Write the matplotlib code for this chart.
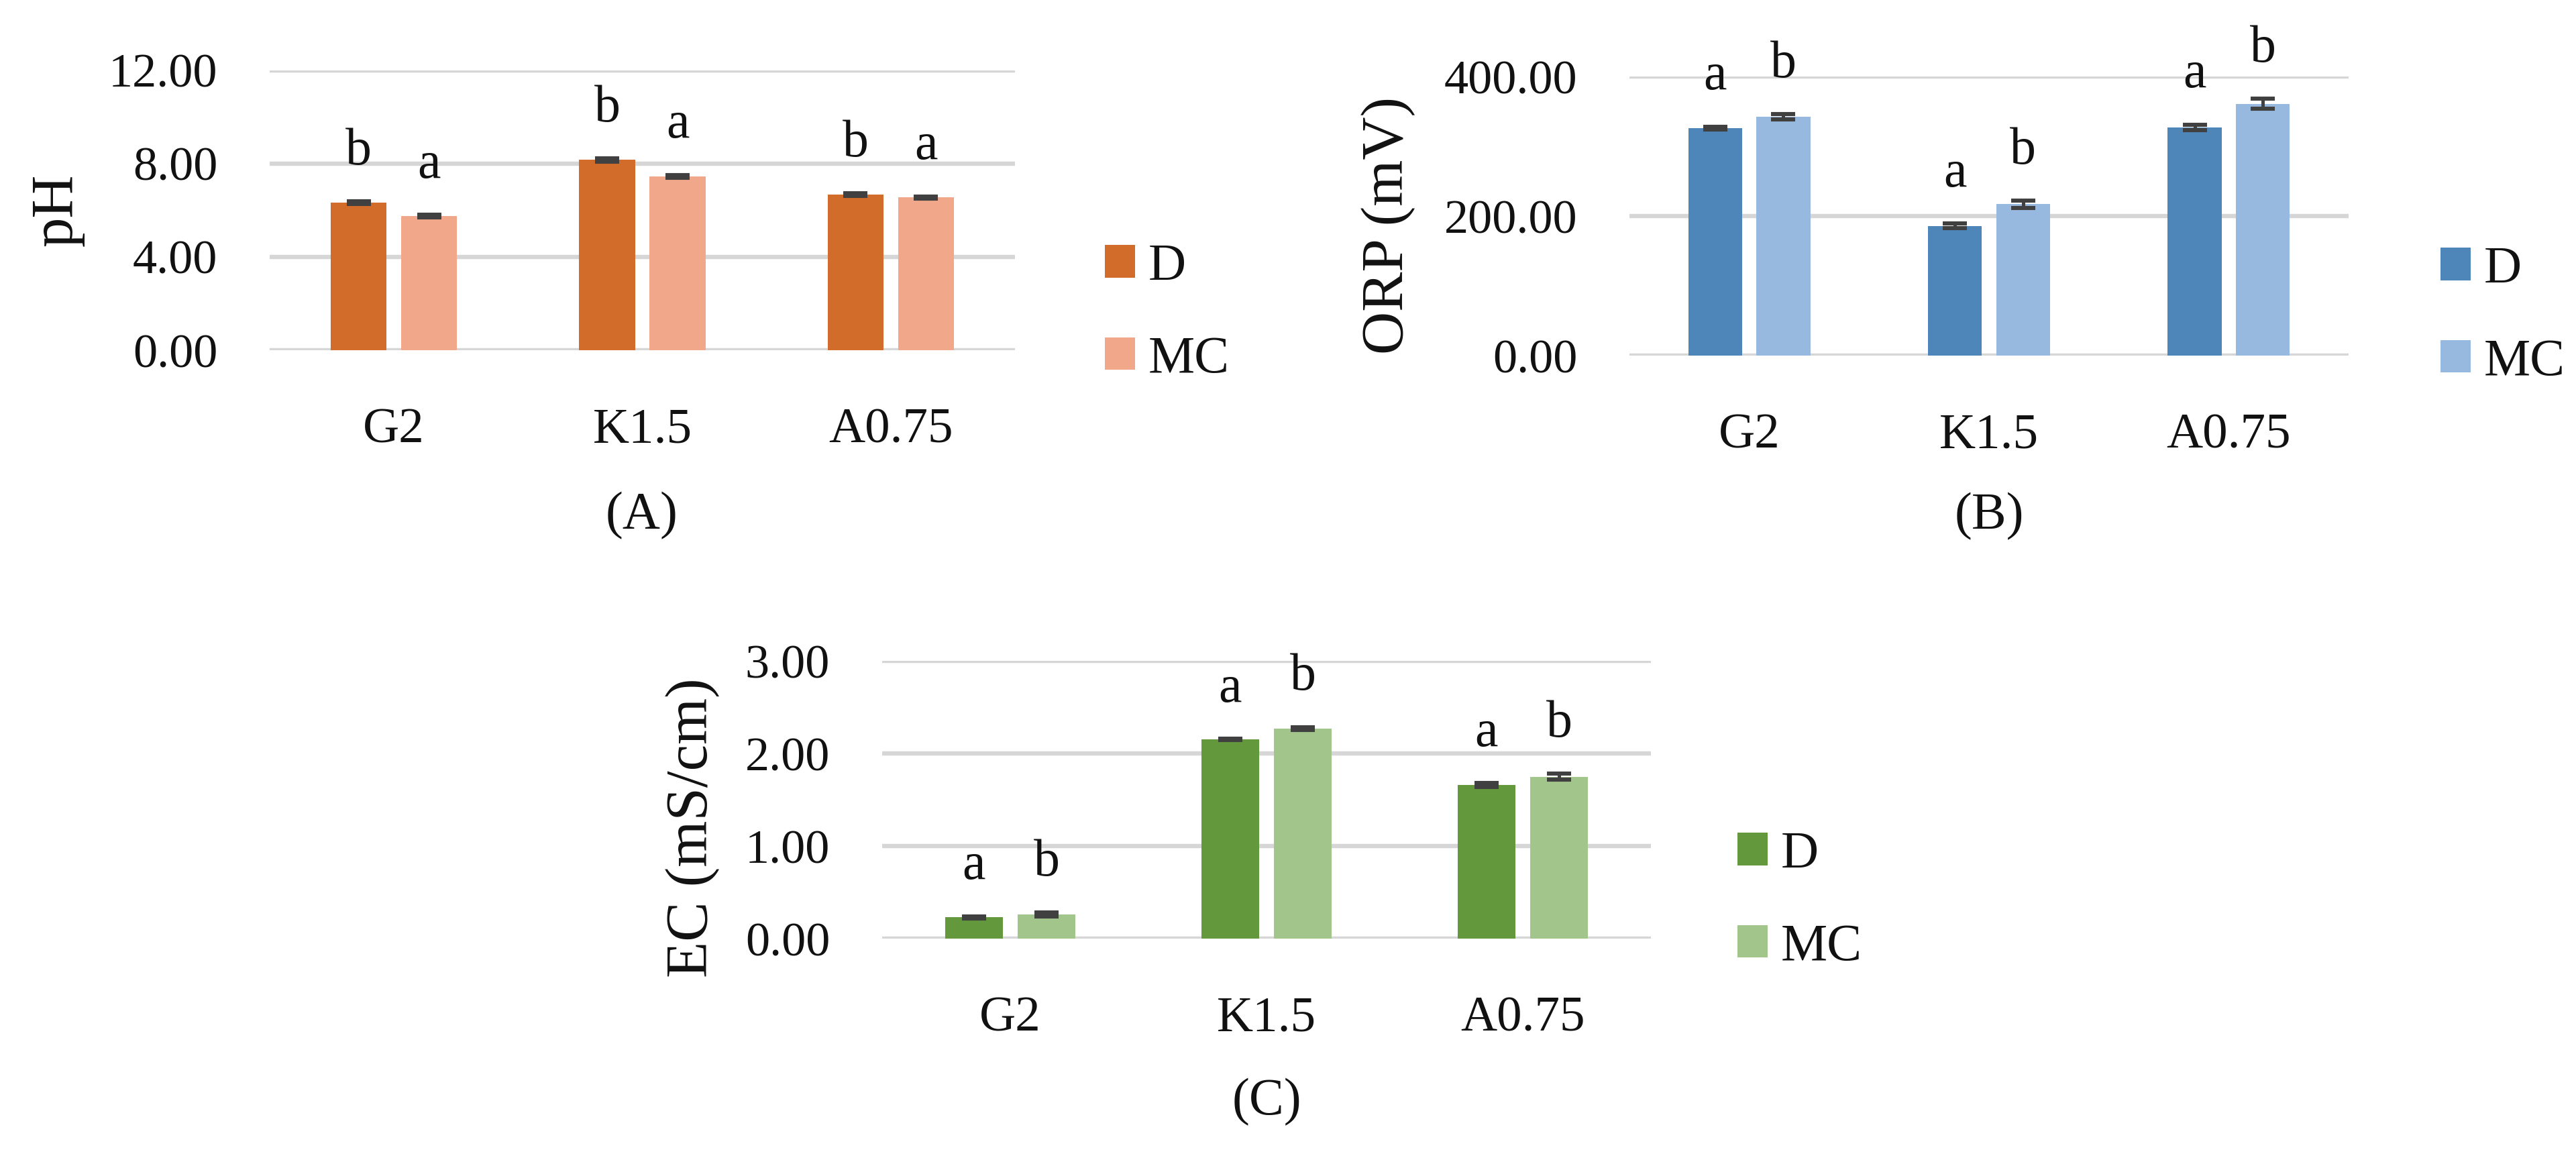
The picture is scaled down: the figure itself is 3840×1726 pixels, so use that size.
import numpy as np
import matplotlib
matplotlib.use("Agg")
import matplotlib.pyplot as plt

plt.rcParams['font.family'] = ['Liberation Serif', 'DejaVu Serif']
plt.rcParams['text.color'] = '#111111'
plt.rcParams['xtick.color'] = '#111111'
plt.rcParams['ytick.color'] = '#111111'

treatments = ["G2", "K1.5", "A0.75"]
series_names = ["D", "MC"]

# pH
ph_d = [6.32, 8.16, 6.67]
ph_mc = [5.75, 7.45, 6.55]
ph_d_err = [0.06, 0.06, 0.06]
ph_mc_err = [0.06, 0.06, 0.04]
ph_d_letters = ["b", "b", "b"]
ph_mc_letters = ["a", "a", "a"]

# ORP (mV)
orp_d = [326, 186, 327]
orp_mc = [342, 217, 361]
orp_d_err = [2, 3, 4]
orp_mc_err = [4, 5, 7]
orp_d_letters = ["a", "a", "a"]
orp_mc_letters = ["b", "b", "b"]

# EC (mS/cm)
ec_d = [0.23, 2.15, 1.66]
ec_mc = [0.26, 2.27, 1.75]
ec_d_err = [0.01, 0.008, 0.02]
ec_mc_err = [0.02, 0.015, 0.03]
ec_d_letters = ["a", "a", "a"]
ec_mc_letters = ["b", "b", "b"]

W, H = 3841, 1726
DPI = 200
fig = plt.figure(figsize=(W / DPI, H / DPI), dpi=DPI)


def px_axes(x0, y_top, x1, y_bot):
    return fig.add_axes([x0 / W, 1 - y_bot / H, (x1 - x0) / W, (y_bot - y_top) / H])


def bar_panel(ax, d, mc, d_err, mc_err, d_let, mc_let, colors, ymax, yticks):
    x = np.arange(len(treatments))
    width = 0.225
    off = 0.142
    # dark, chunky Excel-style error bars
    ekw = dict(ecolor='#404040', elinewidth=1.8, capsize=6.6, capthick=2.2, zorder=4)
    b1 = ax.bar(x - off, d, width, yerr=d_err, color=colors[0], error_kw=ekw,
                label=series_names[0], zorder=3)
    b2 = ax.bar(x + off, mc, width, yerr=mc_err, color=colors[1], error_kw=ekw,
                label=series_names[1], zorder=3)
    for xs, vals, errs, lets in [(x - off, d, d_err, d_let), (x + off, mc, mc_err, mc_let)]:
        for xi, v, e, l in zip(xs, vals, errs, lets):
            ax.annotate(l, (xi, v + e), xytext=(0, 20), textcoords='offset points',
                        ha='center', va='baseline', fontsize=28)
    ax.set_xlim(-0.5, len(treatments) - 0.5)
    ax.set_ylim(0, ymax)
    ax.set_yticks(yticks)
    ax.set_yticklabels([f"{t:.2f}" for t in yticks], fontsize=26)
    ax.set_xticks(x)
    ax.set_xticklabels(treatments, fontsize=27)
    ax.tick_params(axis='both', length=0)
    ax.tick_params(axis='y', pad=28)
    ax.tick_params(axis='x', pad=31)
    for s in ax.spines.values():
        s.set_visible(False)
    ax.yaxis.grid(True, color='#d6d6d6', linewidth=2.3)
    ax.set_axisbelow(True)
    return b1, b2


def add_legend(ax, handles, x_px, y_px):
    ax.legend(handles=handles, loc='center left',
              bbox_to_anchor=(x_px / W, 1 - y_px / H), bbox_transform=fig.transFigure,
              frameon=False, fontsize=28, handlelength=0.58, handleheight=0.58,
              handletextpad=0.25, labelspacing=0.85, borderpad=0, borderaxespad=0)


# (A) pH
axA = px_axes(402, 105, 1513, 522)
hA = bar_panel(axA, ph_d, ph_mc, ph_d_err, ph_mc_err, ph_d_letters, ph_mc_letters,
               ['#D16C2A', '#F1A88A'], 12, [0, 4, 8, 12])
add_legend(axA, hA, 1647, 467)
fig.text(85 / W, 1 - 313 / H, "pH", rotation=90, ha='center', va='center', fontsize=32)
fig.text(957 / W, 1 - 769 / H, "(A)", ha='center', va='center', fontsize=28)

# (B) ORP
axB = px_axes(2429, 114, 3501, 530)
hB = bar_panel(axB, orp_d, orp_mc, orp_d_err, orp_mc_err, orp_d_letters, orp_mc_letters,
               ['#4E86BA', '#98B9DF'], 400, [0, 200, 400])
add_legend(axB, hB, 3638, 471)
fig.text(2070 / W, 1 - 336 / H, "ORP (mV)", rotation=90, ha='center', va='center', fontsize=32)
fig.text(2965 / W, 1 - 770 / H, "(B)", ha='center', va='center', fontsize=28)

# (C) EC
axC = px_axes(1315, 985, 2461, 1399)
hC = bar_panel(axC, ec_d, ec_mc, ec_d_err, ec_mc_err, ec_d_letters, ec_mc_letters,
               ['#63993C', '#A2C58C'], 3, [0, 1, 2, 3])
add_legend(axC, hC, 2590, 1343)
fig.text(1033 / W, 1 - 1234 / H, "EC (mS/cm)", rotation=90, ha='center', va='center', fontsize=32)
fig.text(1888 / W, 1 - 1643 / H, "(C)", ha='center', va='center', fontsize=28)

fig.savefig("out.png", dpi=DPI, facecolor='white')
